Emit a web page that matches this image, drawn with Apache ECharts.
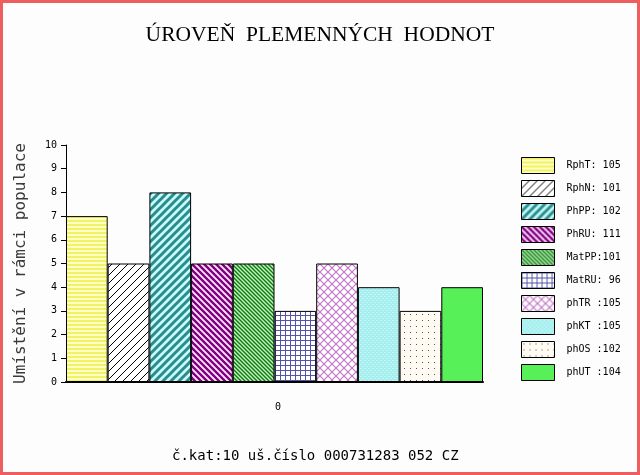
<!DOCTYPE html>
<html>
<head>
<meta charset="utf-8">
<script src="https://cdn.jsdelivr.net/npm/echarts@6/dist/echarts.min.js"></script>
<style>
  html, body { margin: 0; padding: 0; background: #fdfdfd; }
  #chart { width: 640px; height: 475px; }
</style>
</head>
<body>
<div id="chart"></div>
<script>
// ====== Data ======
const categories = ['0'];
const seriesNames = ['RphT: 105', 'RphN: 101', 'PhPP: 102', 'PhRU: 111', 'MatPP:101',
  'MatRU: 96', 'phTR :105', 'phKT :105', 'phOS :102', 'phUT :104'];
const seriesValues = [7, 5, 8, 5, 5, 3, 5, 4, 3, 4];
const yTicks = [0, 10, 1]; // min, max, step

// ====== Fill patterns ======
function makePattern(w, h, bg, draw) {
  const c = document.createElement('canvas');
  c.width = w;
  c.height = h;
  const ctx = c.getContext('2d');
  ctx.fillStyle = bg;
  ctx.fillRect(0, 0, w, h);
  if (draw) draw(ctx, w, h);
  return { image: c, repeat: 'repeat' };
}

// '/' lines
function slash(color, lw) {
  return (ctx, n) => {
    ctx.strokeStyle = color;
    ctx.lineWidth = lw;
    ctx.beginPath();
    ctx.moveTo(-1, n + 1); ctx.lineTo(n + 1, -1);
    ctx.moveTo(-n / 2 - 1, n / 2 + 1); ctx.lineTo(n / 2 + 1, -n / 2 - 1);
    ctx.moveTo(n / 2 - 1, 3 * n / 2 + 1); ctx.lineTo(3 * n / 2 + 1, n / 2 - 1);
    ctx.stroke();
  };
}
// '\' lines
function backslash(color, lw) {
  return (ctx, n) => {
    ctx.strokeStyle = color;
    ctx.lineWidth = lw;
    ctx.beginPath();
    ctx.moveTo(-1, -1); ctx.lineTo(n + 1, n + 1);
    ctx.moveTo(-n / 2 - 1, n / 2 - 1); ctx.lineTo(n / 2 + 1, 3 * n / 2 + 1);
    ctx.moveTo(n / 2 - 1, -n / 2 - 1); ctx.lineTo(3 * n / 2 + 1, n / 2 + 1);
    ctx.stroke();
  };
}

const fills = [
  makePattern(4, 4, '#ffffc4', (ctx) => { ctx.fillStyle = '#f2f266'; ctx.fillRect(0, 0, 4, 2); }),
  makePattern(8, 8, '#ffffff', slash('#000000', 1)),
  makePattern(8, 8, '#c8fafa', slash('#2a8c8c', 3)),
  makePattern(6, 6, '#ffe6ff', backslash('#800080', 2.4)),
  makePattern(4, 4, '#c4f0c4', backslash('#0c7c0c', 1.4)),
  makePattern(5, 5, '#ffffff', (ctx) => { ctx.fillStyle = '#5454a8'; ctx.fillRect(0, 0, 5, 1); ctx.fillRect(0, 0, 1, 5); }),
  makePattern(8, 8, '#ffffff', (ctx, n) => { slash('#c478c8', 1.2)(ctx, n); backslash('#c478c8', 1.2)(ctx, n); }),
  makePattern(4, 4, '#a6eeee', (ctx) => { ctx.fillStyle = '#c2f8f8'; ctx.fillRect(0, 0, 2, 1); ctx.fillRect(2, 2, 2, 1); }),
  makePattern(6, 6, '#fffaf2', (ctx) => { ctx.fillStyle = '#555555'; ctx.fillRect(2, 2, 1, 1); }),
  '#58f058'
];

// ====== Chart ======
const chart = echarts.init(document.getElementById('chart'));

const mono = 'DejaVu Sans Mono';

const option = {
  animation: false,
  backgroundColor: '#fdfdfd',
  title: {
    text: 'ÚROVEŇ  PLEMENNÝCH  HODNOT',
    left: 'center',
    top: 19,
    textStyle: { fontFamily: 'Liberation Serif', fontSize: 21.5, fontWeight: 'normal', color: '#000' }
  },
  legend: {
    orient: 'vertical',
    left: 516,
    top: 152,
    itemWidth: 33,
    itemHeight: 16,
    itemGap: 6,
    icon: 'rect',
    selectedMode: false,
    itemStyle: { borderColor: '#000', borderWidth: 1 },
    textStyle: { fontFamily: mono, fontSize: 10, color: '#000', padding: [0, 0, 0, 7] },
    data: seriesNames
  },
  grid: { left: 66, right: 157, top: 145, bottom: 93, containLabel: false },
  xAxis: {
    type: 'category',
    data: categories,
    axisLine: { lineStyle: { color: '#000', width: 2 } },
    axisTick: { show: false },
    axisLabel: { margin: 20, padding: [0, 0, 0, 7], fontFamily: mono, fontSize: 10, color: '#000' }
  },
  yAxis: {
    type: 'value',
    min: yTicks[0],
    max: yTicks[1],
    interval: yTicks[2],
    name: 'Umístění v rámci populace',
    nameLocation: 'middle',
    nameGap: 37,
    nameTextStyle: { fontFamily: mono, fontSize: 16, color: '#3a3a3a' },
    axisLine: { show: true, lineStyle: { color: '#000', width: 1 } },
    axisTick: { show: true, length: 5, lineStyle: { color: '#000' } },
    axisLabel: { margin: 9, fontFamily: mono, fontSize: 10, color: '#000' },
    splitLine: { show: false }
  },
  graphic: [{
    type: 'rect',
    silent: true,
    shape: { x: 1.5, y: 1.5, width: 637, height: 472 },
    style: { fill: 'none', stroke: '#ee5e5e', lineWidth: 3 }
  }, {
    type: 'text',
    left: 172,
    top: 449,
    style: { text: 'č.kat:10 uš.číslo 000731283 052 CZ', font: '14px "DejaVu Sans Mono"', fill: '#000' }
  }],
  series: seriesNames.map((name, i) => ({
    name,
    type: 'bar',
    data: [seriesValues[i]],
    barGap: '0%',
    barCategoryGap: '0%',
    itemStyle: { color: fills[i], borderColor: '#000', borderWidth: 1 }
  }))
};

chart.setOption(option);
</script>
</body>
</html>
